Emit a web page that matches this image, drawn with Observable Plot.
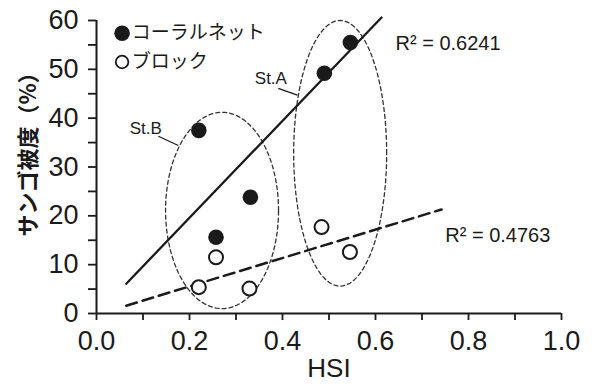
<!DOCTYPE html>
<html><head><meta charset="utf-8">
<script src="https://cdn.jsdelivr.net/npm/d3@7"></script>
<script src="https://cdn.jsdelivr.net/npm/@observablehq/plot@0.6"></script>
<style>
body{margin:0;background:#fff}
#chart svg{overflow:visible}
</style>
</head><body><div id="chart"></div>
<script>
// ---- data ----
const coralHSI = [0.22, 0.257, 0.331, 0.49, 0.546];
const coralCover = [37.5, 15.6, 23.8, 49.2, 55.5];
const blockHSI = [0.22, 0.257, 0.329, 0.484, 0.545];
const blockCover = [5.4, 11.5, 5.1, 17.7, 12.6];
// regression lines (end points)
const fitCoralX = [0.064, 0.613];
const fitCoralY = [6.1, 60.6];
const fitBlockX = [0.064, 0.742];
const fitBlockY = [1.6, 21.3];
const r2Labels = ["R² = 0.6241", "R² = 0.4763"];
const r2X = [0.643, 0.75];
const r2Y = [55.3, 16.0];
// station ellipses
const stNames = ["St.A", "St.B"];
const stCx = [0.524, 0.27];
const stCy = [32.8, 21.1];
const stRx = [0.1, 0.1215];
const stRy = [27.2, 20.1];
const stLabelX = [0.375, 0.106];
const stLabelY = [48.1, 37.8];
const leaderX1 = [0.391, 0.133], leaderY1 = [46.1, 36.3];
const leaderX2 = [0.432, 0.176], leaderY2 = [44.7, 34.4];
// legend
const legendNames = ["コーラルネット", "ブロック"];
const legendY = [57.4, 51.5];
// axes
const xTicks = [0, 0.1, 0.2, 0.3, 0.4, 0.5, 0.6, 0.7, 0.8, 0.9, 1.0];
const xLabels = [0, 0.2, 0.4, 0.6, 0.8, 1.0];
const yTicks = [0, 5, 10, 15, 20, 25, 30, 35, 40, 45, 50, 55, 60];
const yLabels = [0, 10, 20, 30, 40, 50, 60];
const xTitle = "HSI";
const yTitle = "サンゴ被度（%）";

// ---- build tables ----
const coral = coralHSI.map((x, i) => ({x, y: coralCover[i]}));
const block = blockHSI.map((x, i) => ({x, y: blockCover[i]}));
const fitCoral = fitCoralX.map((x, i) => ({x, y: fitCoralY[i]}));
const fitBlock = fitBlockX.map((x, i) => ({x, y: fitBlockY[i]}));
const ellipsePts = [];
stNames.forEach((name, k) => {
  for (let a = 0; a < 120; a++) {
    const t = a / 120 * 2 * Math.PI;
    ellipsePts.push({name, x: stCx[k] + stRx[k] * Math.cos(t), y: stCy[k] + stRy[k] * Math.sin(t)});
  }
});
const ink = "#1a1a1a";
const numFont = "'Liberation Sans', Arial, sans-serif";
const latFont = "'Liberation Sans', Arial, sans-serif";
const jpFont = "'Noto Sans CJK JP', sans-serif";

const chart = Plot.plot({
  width: 607, height: 387,
  marginLeft: 96, marginRight: 46, marginTop: 20, marginBottom: 74,
  style: {background: "#fff", color: ink},
  x: {domain: [0, 1]},
  y: {domain: [0, 60]},
  marks: [
    Plot.line(ellipsePts, {x: "x", y: "y", z: "name", curve: "linear-closed", stroke: "#333", strokeWidth: 1.3, strokeDasharray: "4,3"}),
    Plot.line(fitCoral, {x: "x", y: "y", stroke: ink, strokeWidth: 2.3}),
    Plot.line(fitBlock, {x: "x", y: "y", stroke: ink, strokeWidth: 2.5, strokeDasharray: "11,6"}),
    Plot.link(stNames, {x1: (d, i) => leaderX1[i], y1: (d, i) => leaderY1[i], x2: (d, i) => leaderX2[i], y2: (d, i) => leaderY2[i], stroke: ink, strokeWidth: 1.3}),
    Plot.text(stNames, {x: (d, i) => stLabelX[i], y: (d, i) => stLabelY[i], text: d => d, fontSize: 17, fontFamily: latFont, fill: ink}),
    Plot.text(r2Labels, {x: (d, i) => r2X[i], y: (d, i) => r2Y[i], text: d => d, textAnchor: "start", fontSize: 20, fontFamily: latFont, fill: ink}),
    Plot.dot(block, {x: "x", y: "y", r: 7, stroke: ink, strokeWidth: 2, fill: "#fff"}),
    Plot.dot(coral, {x: "x", y: "y", r: 7.8, fill: ink, stroke: "none"}),
    // legend
    Plot.dot([legendNames[0]], {x: 0.055, y: legendY[0], r: 7.8, fill: ink}),
    Plot.dot([legendNames[1]], {x: 0.055, y: legendY[1], r: 6.3, stroke: ink, strokeWidth: 1.8, fill: "#fff"}),
    Plot.text(legendNames, {x: 0.076, y: (d, i) => legendY[i], text: d => d, textAnchor: "start", fontSize: 19, fontFamily: jpFont, fill: ink}),
    // axes
    Plot.ruleX([0], {stroke: ink, strokeWidth: 2}),
    Plot.ruleY([0], {stroke: ink, strokeWidth: 2}),
    Plot.axisX(xTicks, {tickSize: 7, tickFormat: () => "", label: null, stroke: ink, strokeWidth: 1.8}),
    Plot.axisY(yTicks, {tickSize: 8, tickFormat: () => "", label: null, stroke: ink, strokeWidth: 1.8}),
    Plot.axisX(xLabels, {tickSize: 0, tickPadding: 17, tickFormat: d => d.toFixed(1), label: null, fontSize: 27, fontFamily: numFont, fill: ink, ariaLabel: "xlabels"}),
    Plot.axisY(yLabels, {tickSize: 0, tickPadding: 18, tickFormat: d => String(d), label: null, fontSize: 27, fontFamily: numFont, fill: ink, ariaLabel: "ylabels"}),
    Plot.text([xTitle], {frameAnchor: "bottom", dy: 63, text: d => d, fontSize: 26, fontFamily: numFont, fill: ink, ariaLabel: "xtitle"}),
    Plot.text([yTitle], {frameAnchor: "left", textAnchor: "middle", dx: -68, dy: -18, rotate: -90, text: d => d, fontSize: 22, fontWeight: "bold", fontFamily: jpFont, fill: ink})
  ]
});
// condense numeric labels horizontally (reference uses a narrow face)
function condense(sel, sx) {
  chart.querySelectorAll(sel).forEach(t => {
    let tr = t.getAttribute("transform") || "";
    const x = t.getAttribute("x"), y = t.getAttribute("y");
    if (x != null || y != null) {
      tr += ` translate(${x || 0},${y || 0})`;
      t.removeAttribute("x"); t.removeAttribute("y");
    }
    t.setAttribute("transform", tr + ` scale(${sx},1)`);
  });
}
condense('g[aria-label="xlabels"] text', 0.8);
condense('g[aria-label="ylabels"] text', 0.8);
condense('g[aria-label="xtitle"] text', 0.85);
document.getElementById("chart").appendChild(chart);
</script>
</body></html>
